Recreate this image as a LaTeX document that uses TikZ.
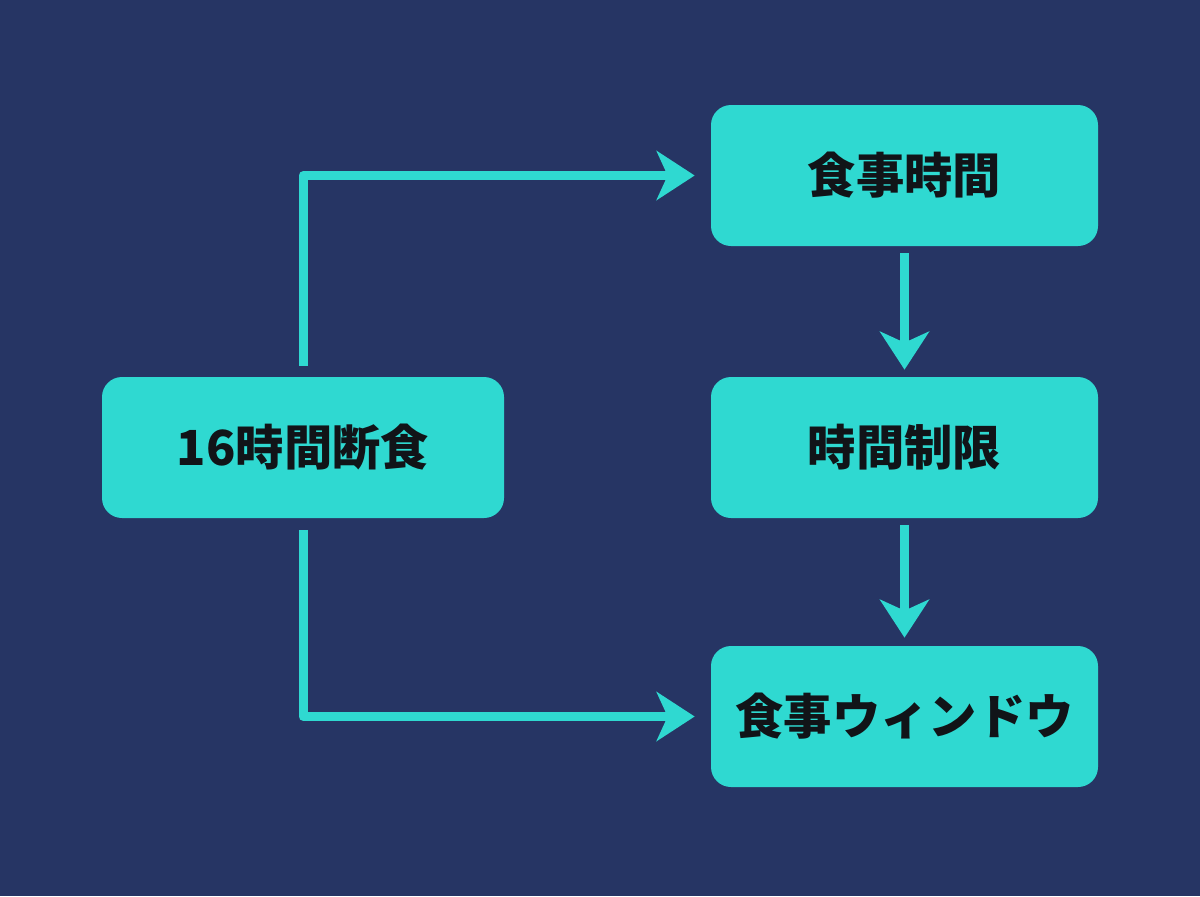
\documentclass[tikz,border=0pt]{standalone}
\usepackage{fontspec}
\setmainfont{Noto Sans CJK JP}
\usepackage{tikz}
\usetikzlibrary{arrows.meta}
\definecolor{navybg}{HTML}{263564}
\definecolor{tealbox}{HTML}{2FD9D1}
\definecolor{inkdark}{HTML}{111418}
\tikzset{
    stepbox/.style={
        fill=tealbox, rounded corners=0.4cm, minimum height=2.82cm,
        text=inkdark, font=\fontsize{27.5}{33}\selectfont\bfseries
    },
    flow/.style={
        draw=tealbox, line width=0.18cm, line join=round,
        -{Stealth[length=0.76cm, width=0.98cm, inset=0.22cm]}
    },
}

\begin{document}
\begin{tikzpicture}
\fill[navybg] (0,0) rectangle (24,-17.92);
\useasboundingbox (0,0) rectangle (24,-17.92);

\node[stepbox, minimum width=8.04cm] (fast) at (6.06,-8.95) {16時間断食};
\node[stepbox, minimum width=7.74cm] (meal) at (18.09,-3.51) {食事時間};
\node[stepbox, minimum width=7.74cm] (limit) at (18.09,-8.95) {時間制限};
\node[stepbox, minimum width=7.74cm] (window) at (18.09,-14.33) {食事ウィンドウ};

\draw[flow, shorten <=0.22cm, shorten >=0.32cm] (fast.north) |- (meal.west);
\draw[flow, shorten <=0.24cm, shorten >=0.32cm] (fast.south) |- (window.west);
\draw[flow, shorten <=0.14cm, shorten >=0.14cm] (meal) -- (limit);
\draw[flow, shorten <=0.14cm, shorten >=0.16cm] (limit) -- (window);
\end{tikzpicture}
\end{document}
